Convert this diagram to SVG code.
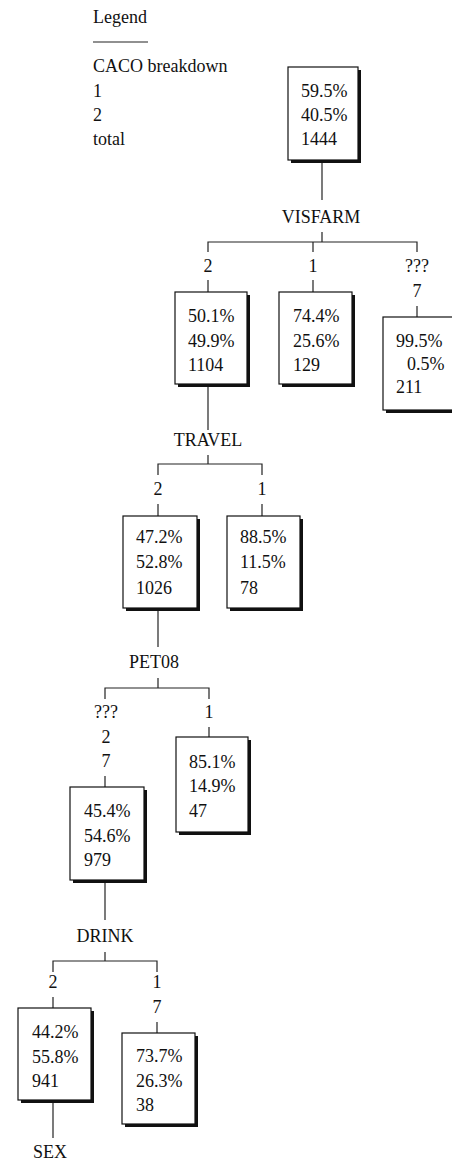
<svg xmlns="http://www.w3.org/2000/svg" width="452" height="1160" viewBox="0 0 452 1160">
<style>
text{font-family:'Liberation Serif','Times New Roman','DejaVu Serif',Times,serif;font-size:18px;fill:#111}
.c{text-anchor:middle}
.box{fill:#fff;stroke:#111;stroke-width:1.2}
.sh{fill:#111}
.ln{stroke:#222;stroke-width:1.2;fill:none}
</style>
<rect width="452" height="1160" fill="#fff"/>
<g id="legend" font-family="Liberation Serif, DejaVu Serif, serif">
<text x="93" y="23">Legend</text>
<line class="ln" x1="93" y1="42" x2="148" y2="42"/>
<text x="93" y="72">CACO breakdown</text>
<text x="93" y="97">1</text>
<text x="93" y="121">2</text>
<text x="93" y="145">total</text>
</g>
<g id="connectors">
<path class="ln" d="M322 163V200"/>
<path class="ln" d="M322 232V242M208 252V242H417V252M313 242V252"/>
<path class="ln" d="M208 280V292M313 280V292M417 306V317"/>
<path class="ln" d="M208 387V430"/>
<path class="ln" d="M208 455V464M158 475V464H262V475"/>
<path class="ln" d="M158 504V516M262 504V516"/>
<path class="ln" d="M158 611V647"/>
<path class="ln" d="M158 678V688M105 699V688H209V699"/>
<path class="ln" d="M209 727V737M105 776V787"/>
<path class="ln" d="M105 883V920"/>
<path class="ln" d="M105 952V961M53 972V961H157V972"/>
<path class="ln" d="M53 997V1008M157 1022V1033"/>
<path class="ln" d="M53 1103V1138"/>
</g>
<g id="split-labels">
<text class="c" x="321" y="223">VISFARM</text>
<text class="c" x="208" y="272">2</text>
<text class="c" x="313" y="272">1</text>
<text class="c" x="417" y="272">???</text>
<text class="c" x="417" y="297">7</text>
<text class="c" x="208" y="446">TRAVEL</text>
<text class="c" x="158" y="495">2</text>
<text class="c" x="262" y="495">1</text>
<text class="c" x="154" y="668">PET08</text>
<text class="c" x="106" y="718">???</text>
<text class="c" x="106" y="743">2</text>
<text class="c" x="106" y="767">7</text>
<text class="c" x="209" y="718">1</text>
<text class="c" x="105" y="942">DRINK</text>
<text class="c" x="53" y="988">2</text>
<text class="c" x="157" y="988">1</text>
<text class="c" x="157" y="1013">7</text>
<text class="c" x="50" y="1158">SEX</text>
</g>
<g id="node-root">
<rect class="sh" x="291" y="70" width="70" height="93"/>
<rect class="box" x="288" y="67" width="70" height="93"/>
<text x="301" y="97">59.5%</text><text x="301" y="121">40.5%</text><text x="301" y="145">1444</text>
</g>
<g id="node-visfarm-2">
<rect class="sh" x="178" y="295" width="72" height="92"/>
<rect class="box" x="175" y="292" width="72" height="92"/>
<text x="188" y="322">50.1%</text><text x="188" y="347">49.9%</text><text x="188" y="371">1104</text>
</g>
<g id="node-visfarm-1">
<rect class="sh" x="282" y="295" width="73" height="92"/>
<rect class="box" x="279" y="292" width="73" height="92"/>
<text x="293" y="322">74.4%</text><text x="293" y="347">25.6%</text><text x="293" y="371">129</text>
</g>
<g id="node-visfarm-7">
<rect class="sh" x="386" y="320" width="72" height="93"/>
<rect class="box" x="383" y="317" width="72" height="93"/>
<text x="396" y="347">99.5%</text><text x="407" y="370">0.5%</text><text x="396" y="393">211</text>
</g>
<g id="node-travel-2">
<rect class="sh" x="126" y="519" width="74" height="92"/>
<rect class="box" x="123" y="516" width="74" height="92"/>
<text x="136" y="543">47.2%</text><text x="136" y="568">52.8%</text><text x="136" y="594">1026</text>
</g>
<g id="node-travel-1">
<rect class="sh" x="230" y="519" width="73" height="92"/>
<rect class="box" x="227" y="516" width="73" height="92"/>
<text x="240" y="543">88.5%</text><text x="240" y="568">11.5%</text><text x="240" y="594">78</text>
</g>
<g id="node-pet08-1">
<rect class="sh" x="179" y="740" width="72" height="95"/>
<rect class="box" x="176" y="737" width="72" height="95"/>
<text x="189" y="768">85.1%</text><text x="189" y="792">14.9%</text><text x="189" y="817">47</text>
</g>
<g id="node-pet08-2">
<rect class="sh" x="73" y="790" width="74" height="93"/>
<rect class="box" x="70" y="787" width="74" height="93"/>
<text x="84" y="817">45.4%</text><text x="84" y="842">54.6%</text><text x="84" y="866">979</text>
</g>
<g id="node-drink-2">
<rect class="sh" x="21" y="1011" width="73" height="92"/>
<rect class="box" x="18" y="1008" width="73" height="92"/>
<text x="32" y="1038">44.2%</text><text x="32" y="1063">55.8%</text><text x="32" y="1087">941</text>
</g>
<g id="node-drink-1">
<rect class="sh" x="125" y="1036" width="73" height="91"/>
<rect class="box" x="122" y="1033" width="73" height="91"/>
<text x="136" y="1062">73.7%</text><text x="136" y="1087">26.3%</text><text x="136" y="1111">38</text>
</g>
</svg>
